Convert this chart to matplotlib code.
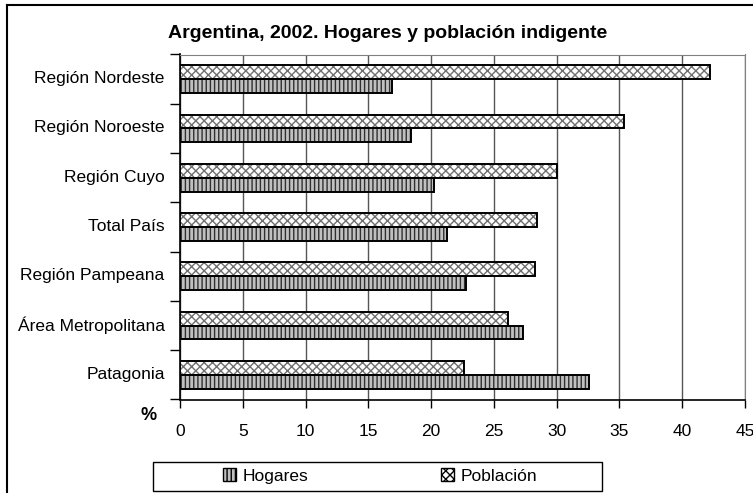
import numpy as np
import matplotlib
matplotlib.use("Agg")
import matplotlib.pyplot as plt
from matplotlib.patches import Patch, Rectangle
from matplotlib.lines import Line2D

# Datos (%)
regiones = ["Región Nordeste", "Región Noroeste", "Región Cuyo", "Total País",
            "Región Pampeana", "Área Metropolitana", "Patagonia"]
hogares = [16.9, 18.4, 20.2, 21.3, 22.8, 27.3, 32.6]
poblacion = [42.2, 35.4, 30.0, 28.4, 28.3, 26.1, 22.6]
ticks_x = [0, 5, 10, 15, 20, 25, 30, 35, 40, 45]

plt.rcParams["font.family"] = ["Liberation Sans", "DejaVu Sans"]
plt.rcParams["hatch.linewidth"] = 1.0

W, H = 753, 493
fig = plt.figure(figsize=(W / 100, H / 100), dpi=100)
ax = fig.add_axes([180 / W, 1 - 399.5 / H, 565 / W, 345 / H])

y = np.arange(len(regiones))
alto = 0.28

# Barras Población (arriba) y Hogares (abajo)
ax.barh(y - alto / 2, poblacion, height=alto, color="white", hatch="xxxx",
        edgecolor="#707070", linewidth=0, zorder=3)
ax.barh(y - alto / 2, poblacion, height=alto, color="none",
        edgecolor="black", linewidth=1.4, zorder=4)
ax.barh(y + alto / 2, hogares, height=alto, color="#c0c0c0", hatch="||||",
        edgecolor="#303030", linewidth=0, zorder=3)
ax.barh(y + alto / 2, hogares, height=alto, color="none",
        edgecolor="black", linewidth=1.4, zorder=4)

ax.set_xlim(0, 45)
ax.set_ylim(len(regiones) - 0.5, -0.5)
ax.set_xticks(ticks_x)
ax.set_xticklabels([str(t) for t in ticks_x], fontsize=12.5)
ax.grid(axis="x", color="#555555", linewidth=1, zorder=0)

ax.set_yticks(np.arange(len(regiones) + 1) - 0.5)
ax.set_yticklabels([])
ax.set_yticks(y - 0.04, minor=True)
ax.set_yticklabels(regiones, minor=True, fontsize=12.5)
ax.tick_params(axis="y", which="minor", length=0, pad=11)
ax.tick_params(axis="y", which="major", length=7, width=1, direction="out")
ax.tick_params(axis="x", length=6, width=1, direction="out", pad=12)

ax.spines["top"].set_color("#808080")
ax.spines["right"].set_color("#808080")
ax.spines["left"].set_linewidth(1.2)
ax.spines["bottom"].set_linewidth(1.2)

fig.text(388 / W, 1 - 33.5 / H, "Argentina, 2002. Hogares y población indigente",
         ha="center", va="center", fontsize=14, fontweight="bold")
fig.text(149 / W, 1 - 416 / H, "%", ha="center", va="center",
         fontsize=13, fontweight="bold")

# Borde exterior del gráfico
fig.add_artist(Line2D([7 / W, 7 / W], [0, 1 - 5 / H], color="black", linewidth=1.5))
fig.add_artist(Line2D([7 / W, 1], [1 - 5 / H, 1 - 5 / H], color="black", linewidth=1.5))

# Leyenda
fig.add_artist(Rectangle((153 / W, 1 - 491 / H), 449 / W, 29 / H, fill=False,
                         edgecolor="black", linewidth=1, transform=fig.transFigure))
handles = [Patch(facecolor="#c0c0c0", edgecolor="black", hatch="||||"),
           Patch(facecolor="white", edgecolor="black", hatch="xxxx")]
fig.legend(handles, ["Hogares", "Población"], ncol=2, frameon=False,
           loc="center", bbox_to_anchor=(380 / W, 1 - 476 / H), fontsize=12.5,
           handlelength=0.75, handleheight=0.75, handletextpad=0.4,
           columnspacing=7.6, borderpad=0)

fig.savefig("out.png", dpi=100)
